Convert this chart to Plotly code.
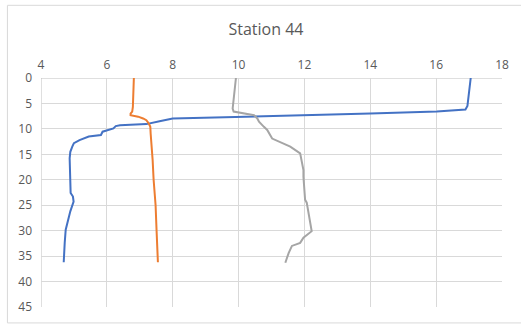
import plotly.graph_objects as go

# Series: depth (y) vs value (x)
blue_depth = [0, 2.7, 5.5, 6.2, 6.6, 7.0, 7.3, 7.5, 7.6, 7.95, 8.5, 8.9, 9.06, 9.3, 9.45, 9.9, 10.55,
              11.2, 11.5, 12.2, 12.8, 13.5, 14.5, 15.8, 18.1, 20.0, 22.6, 23.3, 24.3, 26.2, 28.2,
              29.8, 32.4, 36.2]
blue_vals = [17.05, 16.99, 16.95, 16.89, 16.02, 14.0, 12.0, 10.6, 9.4, 8.0, 7.6, 7.3, 7.2, 6.4, 6.27,
             6.2, 5.87, 5.82, 5.45, 5.17, 5.0, 4.95, 4.89, 4.87, 4.88, 4.87, 4.9, 4.97, 4.99, 4.89,
             4.82, 4.75, 4.72, 4.69]

orange_depth = [0, 3, 5.7, 6.6, 7.0, 7.3, 7.6, 7.95, 8.3, 8.9, 9.6, 10.9, 14.8, 16.1, 20, 22.6,
                25, 30, 36.2]
orange_vals = [6.82, 6.81, 6.79, 6.77, 6.72, 6.72, 6.95, 7.1, 7.2, 7.27, 7.32, 7.33, 7.38, 7.39,
               7.42, 7.46, 7.48, 7.51, 7.55]

gray_depth = [0, 3, 6.0, 6.6, 7.3, 7.95, 8.6, 9.6, 10.2, 11.9, 13.5, 14.8, 16.8, 18.1, 19.4, 23.9,
              24.5, 27.8, 30.1, 31.4, 32.4, 33.0, 34.4, 36.3]
gray_vals = [9.92, 9.88, 9.82, 9.85, 10.47, 10.57, 10.62, 10.77, 10.87, 11.02, 11.57, 11.87, 11.92,
             11.97, 11.97, 12.02, 12.07, 12.17, 12.22, 11.97, 11.87, 11.62, 11.52, 11.42]

title_text = "Station 44"
x_ticks = [4, 6, 8, 10, 12, 14, 16, 18]
y_ticks = [0, 5, 10, 15, 20, 25, 30, 35, 40, 45]

FONT = "Open Sans"
TXT = "#595959"
GRID = "#D9D9D9"

fig = go.Figure()
for xs, ys, col in [(blue_vals, blue_depth, "#4472C4"),
                    (orange_vals, orange_depth, "#ED7D31"),
                    (gray_vals, gray_depth, "#A5A5A5")]:
    fig.add_trace(go.Scatter(x=xs, y=ys, mode="lines", line=dict(color=col, width=2),
                             showlegend=False, hoverinfo="skip"))

L, R, T, B = 41, 13, 78, 19
W, H = 521, 327
pw = W - L - R
ph = H - T - B

fig.update_layout(
    width=W, height=H,
    margin=dict(l=L, r=R, t=T, b=B),
    paper_bgcolor="white", plot_bgcolor="white",
    font=dict(family=FONT, color=TXT, size=12),
    title=dict(text=title_text, x=266 / W, xanchor="center", xref="container",
               y=1 - 29 / H, yanchor="middle", yref="container",
               font=dict(family=FONT, size=16, color=TXT)),
    xaxis=dict(side="top", range=[4, 18], tickvals=x_ticks, showgrid=True, gridcolor=GRID,
               gridwidth=1, zeroline=False, showline=False, ticks="",
               tickfont=dict(size=12, color=TXT), ticklabelstandoff=6),
    yaxis=dict(range=[45, 0], tickvals=y_ticks, showgrid=True, gridcolor=GRID, gridwidth=1,
               zeroline=False, showline=False, ticks="",
               tickfont=dict(size=12, color=TXT), ticklabelstandoff=8),
    shapes=[
        dict(type="line", xref="x", yref="paper", x0=4, x1=4, y0=0, y1=1,
             line=dict(color="#BFBFBF", width=1), layer="below"),
        dict(type="line", xref="paper", yref="y", x0=0, x1=1, y0=0, y1=0,
             line=dict(color="#BFBFBF", width=1), layer="below"),
        dict(type="rect", xref="paper", yref="paper",
             x0=(7 - L) / pw, x1=(530 - L) / pw,
             y0=(T + ph - 324) / ph, y1=(T + ph - 5) / ph,
             line=dict(color=GRID, width=1), fillcolor="rgba(0,0,0,0)", layer="below"),
    ],
)

fig.write_html("out.html")
